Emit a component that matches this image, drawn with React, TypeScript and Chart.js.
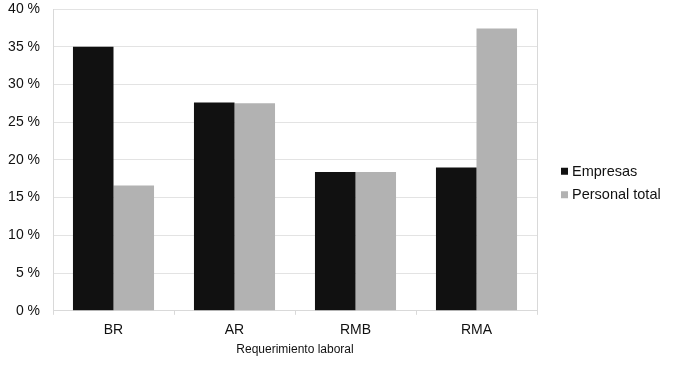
import React, { useEffect, useRef } from "react";
import { Chart, registerables } from "chart.js";

Chart.register(...registerables);

const categories = ["BR", "AR", "RMB", "RMA"];
const empresas = [35.0, 27.6, 18.4, 19.0];
const personalTotal = [16.6, 27.5, 18.4, 37.4];
const yMin = 0;
const yMax = 40;
const yStep = 5;
const seriesNames = ["Empresas", "Personal total"];
const seriesColors = ["#111111", "#b2b2b2"];
const xTitle = "Requerimiento laboral";

const FONT = "Arial, 'Liberation Sans', sans-serif";

const frameAndLegend = {
  id: "frameAndLegend",
  afterDraw(chart: any) {
    const { ctx, chartArea } = chart;
    ctx.save();
    // right frame line
    ctx.strokeStyle = "#d9d9d9";
    ctx.lineWidth = 1;
    ctx.beginPath();
    ctx.moveTo(Math.round(chartArea.right) + 0.5, chartArea.top);
    ctx.lineTo(Math.round(chartArea.right) + 0.5, chartArea.bottom);
    ctx.stroke();
    // legend
    const datasets = chart.data.datasets;
    const x0 = chartArea.right + 24;
    const yc = chart.height / 2;
    const spacing = 23.5;
    const startY = yc - ((datasets.length - 1) * spacing) / 2;
    ctx.font = `14.5px ${FONT}`;
    ctx.textBaseline = "middle";
    ctx.textAlign = "left";
    datasets.forEach((ds: any, i: number) => {
      const y = startY + i * spacing;
      ctx.fillStyle = ds.backgroundColor;
      ctx.fillRect(x0, y - 3.5, 7, 7);
      ctx.fillStyle = "#111";
      ctx.fillText(ds.label, x0 + 11, y + 0.5);
    });
    ctx.restore();
  },
};

export default function App() {
  const ref = useRef<HTMLCanvasElement>(null);
  useEffect(() => {
    if (!ref.current) return;
    const chart = new Chart(ref.current, {
      type: "bar",
      data: {
        labels: categories,
        datasets: [
          { label: seriesNames[0], data: empresas, backgroundColor: seriesColors[0] },
          { label: seriesNames[1], data: personalTotal, backgroundColor: seriesColors[1] },
        ],
      },
      options: {
        animation: false,
        responsive: false,
        layout: { padding: { left: 0, top: 0, bottom: 9, right: 141 } },
        datasets: { bar: { categoryPercentage: 0.67, barPercentage: 1 } },
        plugins: {
          legend: { display: false },
          tooltip: { enabled: false },
        },
        scales: {
          x: {
            grid: { offset: true, drawOnChartArea: false, drawTicks: true, tickLength: 4, color: "#d9d9d9" },
            border: { color: "#d9d9d9" },
            ticks: { color: "#111", font: { family: FONT, size: 14 }, padding: 7 },
            title: {
              display: true,
              text: xTitle,
              color: "#111",
              font: { family: FONT, size: 12 },
              padding: { top: -3, bottom: 0 },
            },
          },
          y: {
            min: yMin,
            max: yMax,
            ticks: {
              stepSize: yStep,
              color: "#111",
              font: { family: FONT, size: 14 },
              padding: 13,
              callback: (v: any) => `${v} %`,
            },
            grid: { color: "#e3e3e3", drawTicks: false },
            border: { color: "#d9d9d9" },
            afterFit: (s: any) => {
              s.width = 53;
              s.paddingTop = 9;
            },
          },
        },
      } as any,
      plugins: [frameAndLegend],
    });
    return () => chart.destroy();
  }, []);
  return (
    <div style={{ position: "fixed", left: 0, top: 0, width: 678, height: 366, background: "#fff" }}>
      <canvas ref={ref} width={678} height={366} style={{ display: "block" }} />
    </div>
  );
}
